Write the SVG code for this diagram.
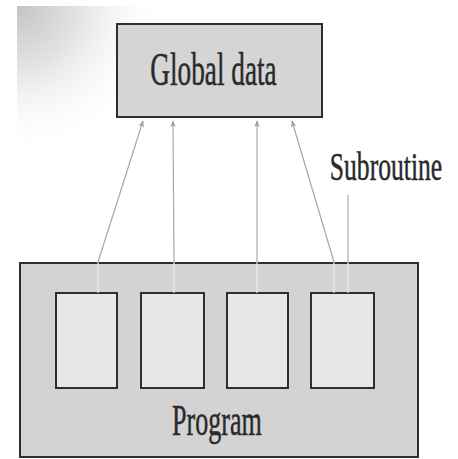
<svg xmlns="http://www.w3.org/2000/svg" width="458" height="459" viewBox="0 0 458 459">
  <defs>
    <style>
      .box { stroke: #2e2e2e; stroke-width: 2; }
      .outer { fill: #d3d3d3; }
      .inner { fill: #e7e7e7; }
      .label { font-family: "Liberation Serif", "Times New Roman", serif; fill: #2a2a2a; stroke: #2a2a2a; stroke-width: 0.5; text-anchor: middle; }
      .conn { stroke: #a8a8a8; stroke-width: 1.2; fill: none; }
      .stub { stroke: #ececec; stroke-width: 1.2; fill: none; }
    </style>
    <marker id="arrow" viewBox="0 0 10 10" refX="9" refY="5" markerWidth="7" markerHeight="9" orient="auto" markerUnits="userSpaceOnUse">
      <path d="M0,1 L10,5 L0,9 L3,5 Z" fill="#a0a0a0"/>
    </marker>
    <radialGradient id="haze" cx="17" cy="6" r="150" gradientUnits="userSpaceOnUse">
      <stop offset="0" stop-color="#c4c4c4"/>
      <stop offset="0.4" stop-color="#e2e2e2"/>
      <stop offset="1" stop-color="#ffffff" stop-opacity="0"/>
    </radialGradient>
  </defs>

  <rect width="458" height="459" fill="#ffffff"/>
  <!-- faint textured backdrop, upper left -->
  <rect x="17" y="6" width="160" height="170" fill="url(#haze)"/>

  <g id="program">
    <rect class="box outer" x="20" y="263" width="398" height="194"/>
    <text class="label" font-size="45" transform="translate(217,435) scale(0.58,1)">Program</text>
  </g>

  <g id="subroutine1"><rect class="box inner" x="56" y="293" width="61" height="95"/></g>
  <g id="subroutine2"><rect class="box inner" x="141" y="293" width="63" height="95"/></g>
  <g id="subroutine3"><rect class="box inner" x="227" y="293" width="61" height="95"/></g>
  <g id="subroutine4"><rect class="box inner" x="311" y="293" width="63" height="95"/></g>

  <g id="global-data">
    <rect class="box" x="117" y="24" width="205" height="93" fill="#d5d5d5"/>
    <text class="label" font-size="47" transform="translate(213.5,85) scale(0.58,1)">Global data</text>
  </g>

  <g id="subroutine-label">
    <text class="label" font-size="40" transform="translate(386,180) scale(0.64,1)">Subroutine</text>
  </g>

  <g id="connectors">
    <!-- pale stubs crossing the program border -->
    <line class="stub" x1="98" y1="293" x2="98" y2="262"/>
    <line class="stub" x1="174" y1="293" x2="174" y2="262"/>
    <line class="stub" x1="257" y1="293" x2="257" y2="262"/>
    <line class="stub" x1="334" y1="293" x2="334" y2="262"/>
    <line class="stub" x1="348" y1="293" x2="348" y2="262"/>
    <!-- calls into the global data -->
    <line class="conn" x1="98" y1="262" x2="143" y2="121" marker-end="url(#arrow)"/>
    <line class="conn" x1="174" y1="262" x2="173" y2="121" marker-end="url(#arrow)"/>
    <line class="conn" x1="257" y1="262" x2="257" y2="121" marker-end="url(#arrow)"/>
    <line class="conn" x1="334" y1="262" x2="292" y2="121" marker-end="url(#arrow)"/>
    <!-- label leader -->
    <line class="conn" x1="348" y1="195" x2="348" y2="262"/>
  </g>
</svg>
